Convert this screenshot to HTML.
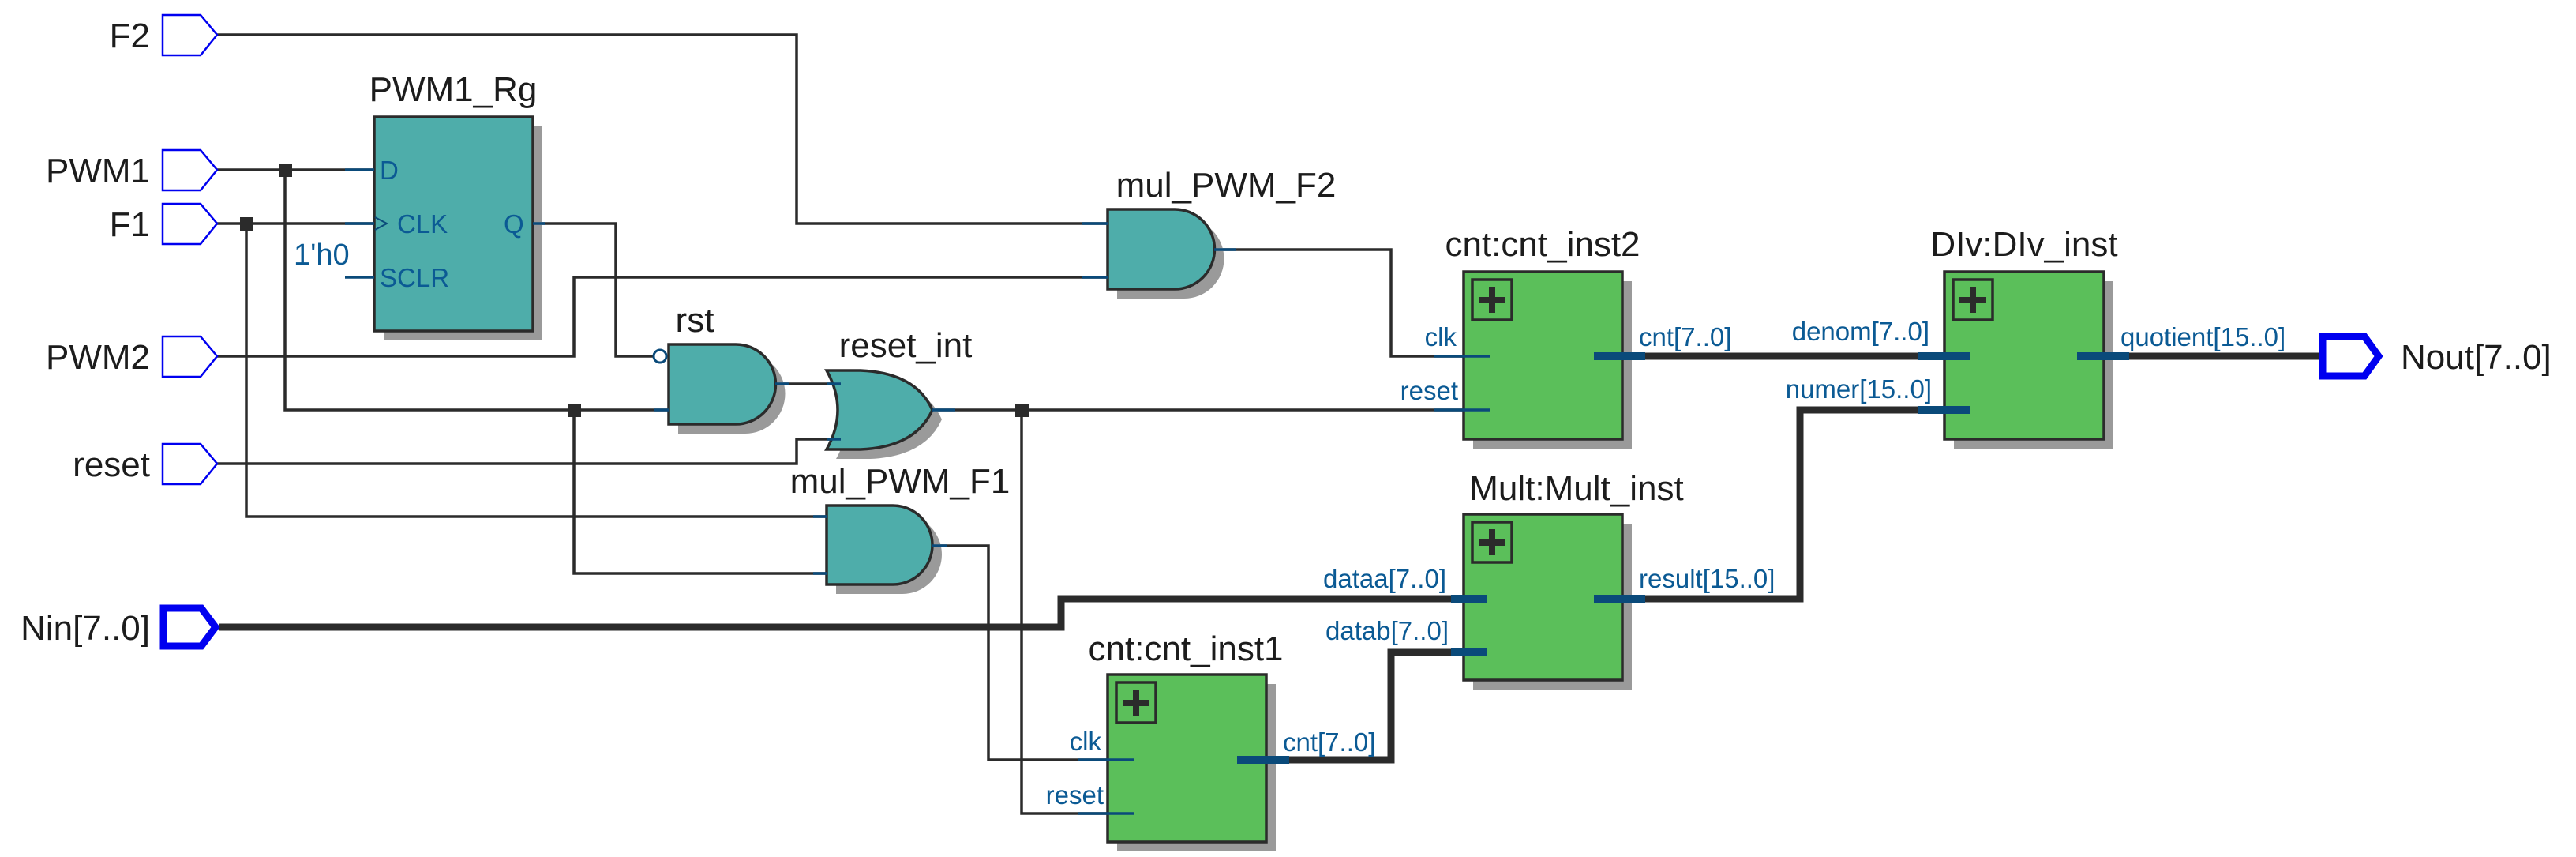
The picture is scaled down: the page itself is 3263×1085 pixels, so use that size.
<!DOCTYPE html>
<html><head><meta charset="utf-8"><style>
html,body{margin:0;padding:0;background:#fff;}
svg{display:block;}
text{font-family:"Liberation Sans",sans-serif;}
.t{font-size:44px;fill:#1c1c1c;}
.p{font-size:33px;fill:#0b5a94;}
.w{stroke:#2b2b2b;stroke-width:3.5;fill:none;}
.b{stroke:#2b2b2b;stroke-width:9;fill:none;}
.s{stroke:#0a4a7a;stroke-width:3.5;}
.sb{stroke:#0a4a7a;stroke-width:10;}
.g{fill:#4eadaa;stroke:#2b2b2b;stroke-width:3.5;}
.gr{fill:#5bbf5a;stroke:#2b2b2b;stroke-width:3.5;}
.sh{fill:#9a9a9a;}
.port{fill:#fff;stroke:#0000f0;stroke-width:2.5;}
.bport{fill:#fff;stroke:#0000f0;stroke-width:9;}
</style></head><body>
<svg width="3263" height="1085" viewBox="0 0 3263 1085" xmlns="http://www.w3.org/2000/svg">
<!-- wires -->
<path class="w" d="M275,44 H1009 V283 H1403"/>
<path class="w" d="M275,215 H474"/>
<path class="w" d="M275,283 H474"/>
<path class="w" d="M361,215 V519 H860"/>
<path class="w" d="M727,519 V726 H1047"/>
<path class="w" d="M312,283 V654 H1047"/>
<path class="w" d="M675,283 H780 V451 H828"/>
<path class="w" d="M275,451 H727 V351 H1403"/>
<path class="w" d="M275,587 H1009 V556 H1068"/>
<path class="w" d="M982,486 H1068"/>
<path class="w" d="M1181,519 H1854"/>
<path class="w" d="M1294,519 V1030 H1403"/>
<path class="w" d="M1538,316 H1762 V451 H1854"/>
<path class="w" d="M1181,691 H1252 V962 H1403"/>
<path class="b" d="M277,794 H1344 V758 H1854"/>
<path class="b" d="M1633,962 H1762 V826 H1854"/>
<path class="b" d="M2084,758 H2280 V519 H2463"/>
<path class="b" d="M2084,451 H2463"/>
<path class="b" d="M2665,451 H2940"/>
<!-- junctions -->
<rect x="353" y="207" width="17" height="17" fill="#2b2b2b"/>
<rect x="304" y="275" width="17" height="17" fill="#2b2b2b"/>
<rect x="719" y="511" width="17" height="17" fill="#2b2b2b"/>
<rect x="1286" y="511" width="17" height="17" fill="#2b2b2b"/>
<!-- input ports -->
<g class="port">
<path d="M206,19 H254 L275,44 L254,70 H206 Z"/>
<path d="M206,190 H254 L275,215 L254,241 H206 Z"/>
<path d="M206,258 H254 L275,283 L254,309 H206 Z"/>
<path d="M206,426 H254 L275,451 L254,477 H206 Z"/>
<path d="M206,562 H254 L275,587 L254,613 H206 Z"/>
</g>
<path class="bport" d="M207,770 H255 L273,794 L255,818 H207 Z"/>
<path class="bport" d="M2942,426 H2995 L3013,451 L2995,476 H2942 Z"/>
<g class="t" text-anchor="end">
<text x="190" y="60">F2</text>
<text x="190" y="231">PWM1</text>
<text x="190" y="299">F1</text>
<text x="190" y="467">PWM2</text>
<text x="190" y="603">reset</text>
<text x="190" y="810">Nin[7..0]</text>
</g>
<text class="t" x="3041" y="467">Nout[7..0]</text>
<!-- DFF -->
<rect class="sh" x="486" y="160" width="201" height="271"/>
<rect x="474" y="148" width="201" height="271" fill="#4eadaa" stroke="#2b2b2b" stroke-width="3.5"/>
<line class="s" x1="437" y1="215" x2="474" y2="215"/>
<line class="s" x1="437" y1="283" x2="474" y2="283"/>
<line class="s" x1="437" y1="351" x2="474" y2="351"/>
<line class="s" x1="675" y1="283" x2="690" y2="283"/>
<path d="M475,275 L490,283 L475,291" fill="none" stroke="#0a4a7a" stroke-width="2"/>
<text class="t" x="574" y="128" text-anchor="middle">PWM1_Rg</text>
<g class="p"><text x="481" y="227">D</text><text x="503" y="295">CLK</text><text x="481" y="363">SCLR</text><text x="638" y="295">Q</text></g>
<text x="372" y="335" style="font-size:38px;fill:#0b5a94">1'h0</text>
<!-- rst AND -->
<path class="sh" d="M859,448 H944 A50.5,50.5 0 0 1 944,549 H859 Z"/>
<path class="g" d="M847,436 H932 A50.5,50.5 0 0 1 932,537 H847 Z"/>
<circle cx="836" cy="451" r="8" fill="#fff" stroke="#0a4a7a" stroke-width="3"/>
<line class="s" x1="828" y1="519" x2="847" y2="519"/>
<line class="s" x1="982" y1="486" x2="1000" y2="486"/>
<text class="t" x="880" y="420" text-anchor="middle">rst</text>
<!-- reset_int OR -->
<path class="sh" d="M1059,481 H1102 Q1172,484 1193,531 Q1172,578 1102,581 H1059 Q1087,531 1059,481 Z"/>
<path class="g" d="M1047,469 H1090 Q1160,472 1181,519 Q1160,566 1090,569 H1047 Q1075,519 1047,469 Z"/>
<line class="s" x1="1047" y1="486" x2="1065" y2="486"/>
<line class="s" x1="1047" y1="556" x2="1065" y2="556"/>
<line class="s" x1="1181" y1="519" x2="1210" y2="519"/>
<text class="t" x="1147" y="452" text-anchor="middle">reset_int</text>
<!-- mul_PWM_F2 -->
<path class="sh" d="M1415,277 H1500 A50.5,50.5 0 0 1 1500,378 H1415 Z"/>
<path class="g" d="M1403,265 H1488 A50.5,50.5 0 0 1 1488,366 H1403 Z"/>
<line class="s" x1="1370" y1="283" x2="1403" y2="283"/>
<line class="s" x1="1370" y1="351" x2="1403" y2="351"/>
<line class="s" x1="1538" y1="316" x2="1565" y2="316"/>
<text class="t" x="1553" y="249" text-anchor="middle">mul_PWM_F2</text>
<!-- mul_PWM_F1 -->
<path class="sh" d="M1059,652 H1143 A50,50 0 0 1 1143,752 H1059 Z"/>
<path class="g" d="M1047,640 H1131 A50,50 0 0 1 1131,740 H1047 Z"/>
<line class="s" x1="1030" y1="654" x2="1047" y2="654"/>
<line class="s" x1="1030" y1="726" x2="1047" y2="726"/>
<line class="s" x1="1181" y1="691" x2="1200" y2="691"/>
<text class="t" x="1140" y="624" text-anchor="middle">mul_PWM_F1</text>
<!-- cnt_inst2 -->
<rect class="sh" x="1866" y="356" width="201" height="212"/>
<rect class="gr" x="1854" y="344" width="201" height="212"/>
<rect x="1865" y="354" width="50" height="51" fill="none" stroke="#2b2b2b" stroke-width="3.5"/>
<path d="M1890,363 V396 M1873,380 H1907" stroke="#2b2b2b" stroke-width="8"/>
<line class="s" x1="1817" y1="451" x2="1887" y2="451"/>
<line class="s" x1="1817" y1="519" x2="1887" y2="519"/>
<line class="sb" x1="2019" y1="451" x2="2084" y2="451"/>
<text class="t" x="1954" y="324" text-anchor="middle">cnt:cnt_inst2</text>
<g class="p"><text x="1845" y="438" text-anchor="end">clk</text><text x="1847" y="506" text-anchor="end">reset</text><text x="2076" y="438">cnt[7..0]</text></g>
<!-- Mult -->
<rect class="sh" x="1866" y="663" width="201" height="210"/>
<rect class="gr" x="1854" y="651" width="201" height="210"/>
<rect x="1865" y="661" width="50" height="51" fill="none" stroke="#2b2b2b" stroke-width="3.5"/>
<path d="M1890,670 V703 M1873,687 H1907" stroke="#2b2b2b" stroke-width="8"/>
<line class="sb" x1="1838" y1="758" x2="1884" y2="758"/>
<line class="sb" x1="1838" y1="826" x2="1884" y2="826"/>
<line class="sb" x1="2019" y1="758" x2="2084" y2="758"/>
<text class="t" x="1997" y="633" text-anchor="middle">Mult:Mult_inst</text>
<g class="p"><text x="1832" y="744" text-anchor="end">dataa[7..0]</text><text x="1835" y="810" text-anchor="end">datab[7..0]</text><text x="2076" y="744">result[15..0]</text></g>
<!-- cnt_inst1 -->
<rect class="sh" x="1415" y="866" width="201" height="212"/>
<rect class="gr" x="1403" y="854" width="201" height="212"/>
<rect x="1414" y="864" width="50" height="51" fill="none" stroke="#2b2b2b" stroke-width="3.5"/>
<path d="M1439,873 V906 M1422,890 H1456" stroke="#2b2b2b" stroke-width="8"/>
<line class="s" x1="1366" y1="962" x2="1436" y2="962"/>
<line class="s" x1="1366" y1="1030" x2="1436" y2="1030"/>
<line class="sb" x1="1567" y1="962" x2="1633" y2="962"/>
<text class="t" x="1502" y="836" text-anchor="middle">cnt:cnt_inst1</text>
<g class="p"><text x="1395" y="950" text-anchor="end">clk</text><text x="1398" y="1018" text-anchor="end">reset</text><text x="1625" y="951">cnt[7..0]</text></g>
<!-- Div -->
<rect class="sh" x="2475" y="356" width="202" height="212"/>
<rect class="gr" x="2463" y="344" width="202" height="212"/>
<rect x="2474" y="354" width="50" height="51" fill="none" stroke="#2b2b2b" stroke-width="3.5"/>
<path d="M2499,363 V396 M2482,380 H2516" stroke="#2b2b2b" stroke-width="8"/>
<line class="sb" x1="2430" y1="451" x2="2496" y2="451"/>
<line class="sb" x1="2430" y1="519" x2="2496" y2="519"/>
<line class="sb" x1="2631" y1="451" x2="2697" y2="451"/>
<text class="t" x="2564" y="324" text-anchor="middle">DIv:DIv_inst</text>
<g class="p"><text x="2444" y="431" text-anchor="end">denom[7..0]</text><text x="2447" y="504" text-anchor="end">numer[15..0]</text><text x="2686" y="438">quotient[15..0]</text></g>
</svg>
</body></html>
